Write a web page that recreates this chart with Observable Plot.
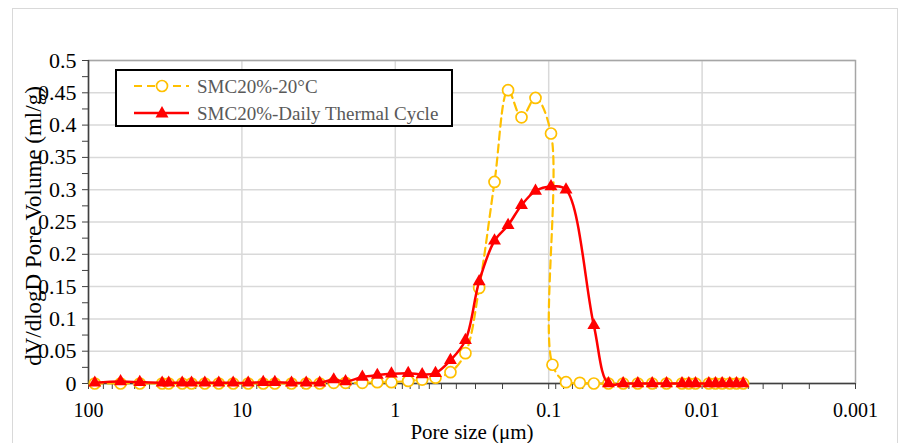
<!DOCTYPE html>
<html><head><meta charset="utf-8">
<script src="https://cdn.jsdelivr.net/npm/d3@7"></script>
<script src="https://cdn.jsdelivr.net/npm/@observablehq/plot@0.6"></script>
<style>
body{margin:0;background:#fff;}
#wrap{position:relative;width:903px;height:443px;overflow:hidden;font-family:"Liberation Serif","Times New Roman",serif;}
#border{position:absolute;left:12px;top:8px;width:884px;height:450px;border:1px solid #d9d9d9;pointer-events:none;}
#legend{position:absolute;left:115px;top:69px;width:334px;height:54px;border:2px solid #000;background:#fff;}
#legend svg{position:absolute;left:0;top:0;}
#legend .t{position:absolute;left:80px;font-size:19px;color:#595959;white-space:nowrap;line-height:1;}
</style></head>
<body><div id="wrap"><div id="chart"></div><div id="border"></div>
<div id="legend">
<svg width="80" height="54">
<line x1="17" x2="72" y1="15" y2="15" stroke="#FFC000" stroke-width="2.2" stroke-dasharray="8,5"/>
<circle cx="45" cy="15" r="5.5" fill="#fff" stroke="#FFC000" stroke-width="1.7"/>
<line x1="17" x2="72" y1="42" y2="42" stroke="#FF0000" stroke-width="2.5"/>
<path d="M45,35 L51.5,46.5 L38.5,46.5 Z" fill="#FF0000"/>
</svg>
<span class="t" style="top:6px">SMC20%-20°C</span>
<span class="t" style="top:33px">SMC20%-Daily Thermal Cycle</span>
</div></div>
<script>
// Series 1: SMC20%-20°C
const poreSize20 = [91, 61.8, 46.3, 33.1, 30.0, 24.5, 21.3, 17.45, 14.15, 11.4, 9.1, 7.26, 6.1, 4.75, 3.81, 3.11, 2.52, 2.11, 1.64, 1.31, 1.06, 0.824, 0.668, 0.547, 0.437, 0.349, 0.284, 0.2256, 0.184, 0.1504, 0.1219,
  0.0966, 0.0945, 0.0771, 0.0627, 0.0508, 0.0408, 0.0327, 0.02625, 0.02115, 0.01706, 0.01352, 0.01221, 0.01104, 0.00904, 0.00818, 0.0074, 0.0066, 0.00597, 0.0054];
const vol20 = [0, 0, 0, 0, 0, 0, 0, 0, 0, 0, 0, 0, 0, 0, 0, 0, 0.001, 0.001, 0.001, 0.002, 0.002, 0.004, 0.006, 0.009, 0.0175, 0.047, 0.148, 0.312, 0.454, 0.412, 0.442,
  0.387, 0.029, 0.002, 0.001, 0, 0, 0, 0, 0, 0, 0, 0, 0, 0, 0, 0, 0, 0, 0];
// Series 2: SMC20%-Daily Thermal Cycle
const poreSizeDTC = [91, 61.8, 46.3, 33.1, 30.0, 24.5, 21.3, 17.45, 14.15, 11.4, 9.1, 7.26, 6.1, 4.75, 3.81, 3.11, 2.52, 2.11, 1.64, 1.31, 1.06, 0.824, 0.668, 0.547, 0.437, 0.349, 0.284, 0.2256, 0.184, 0.1504, 0.1219,
  0.0966, 0.0771, 0.0508, 0.0408, 0.0327, 0.02625, 0.02115, 0.01706, 0.01352, 0.01221, 0.01104, 0.00904, 0.00818, 0.0074, 0.0066, 0.00597, 0.0054];
const volDTC = [0.001, 0.003, 0.002, 0.001, 0.001, 0.001, 0.001, 0.001, 0.001, 0.001, 0.001, 0.002, 0.002, 0.001, 0.001, 0.001, 0.006, 0.003, 0.010, 0.013, 0.015, 0.016, 0.014, 0.016, 0.036, 0.067, 0.158, 0.221, 0.245, 0.276, 0.298,
  0.305, 0.300, 0.090, 0, 0, 0, 0, 0, 0, 0, 0, 0, 0, 0, 0, 0, 0];

const xTicks = [100, 10, 1, 0.1, 0.01, 0.001];
const xTickLabels = ["100", "10", "1", "0.1", "0.01", "0.001"];
const yTicks = [0, 0.05, 0.1, 0.15, 0.2, 0.25, 0.3, 0.35, 0.4, 0.45, 0.5];
const yTickLabels = ["0", "0.05", "0.1", "0.15", "0.2", "0.25", "0.3", "0.35", "0.4", "0.45", "0.5"];
const xTitle = "Pore size (μm)";
const yTitle = "dV/dlogD Pore Volume (ml/g)";

const xMinor = [];
for (let k = -3; k <= 1; k++) for (let m = 2; m <= 9; m++) xMinor.push(m * Math.pow(10, k));
const yMinor = yTicks.slice(0, -1).map(v => v + 0.025);

const s1 = poreSize20.map((x, i) => ({x, y: vol20[i]}));
const s2 = poreSizeDTC.map((x, i) => ({x, y: volDTC[i]}));

const chart = Plot.plot({
  width: 903, height: 443,
  marginLeft: 88, marginRight: 48, marginTop: 60, marginBottom: 60,
  x: {type: "log", domain: [100, 0.001]},
  y: {domain: [0, 0.5]},
  style: {fontFamily: '"Liberation Serif","Times New Roman",serif', fontSize: "20px", color: "#000", background: "transparent", overflow: "visible"},
  marks: [
    Plot.gridY(yTicks.slice(1), {stroke: "#d9d9d9", strokeOpacity: 1, strokeWidth: 1.5}),
    Plot.gridX(xTicks.slice(1, -1), {stroke: "#d9d9d9", strokeOpacity: 1, strokeWidth: 1.5}),
    Plot.frame({stroke: "#a6a6a6", strokeWidth: 1.5}),
    Plot.axisY(yTicks, {tickSize: 6, tickPadding: 6, tickFormat: d => yTickLabels[yTicks.indexOf(d)], fontSize: 22, label: null, stroke: "#404040"}),
    Plot.axisY(yMinor, {tickSize: 6, tickFormat: () => "", label: null, stroke: "#404040"}),
    Plot.axisX(xTicks, {tickSize: 6, tickPadding: 13, tickFormat: d => xTickLabels[xTicks.indexOf(d)], fontSize: 20, label: null, stroke: "#404040"}),
    Plot.axisX(xMinor, {tickSize: 6, tickFormat: () => "", label: null, stroke: "#404040"}),
    Plot.ruleX([100], {stroke: "#404040", strokeWidth: 1.5}),
    Plot.ruleY([0], {stroke: "#404040", strokeWidth: 1.5}),
    Plot.line(s1, {x: "x", y: "y", stroke: "#FFC000", strokeWidth: 2.2, strokeDasharray: "8,5", curve: "catmull-rom"}),
    Plot.dot(s1, {x: "x", y: "y", r: 5.5, stroke: "#FFC000", strokeWidth: 1.7, fill: "#fff"}),
    Plot.line(s2, {x: "x", y: "y", stroke: "#FF0000", strokeWidth: 2.5, curve: "catmull-rom"}),
    Plot.dot(s2, {x: "x", y: "y", r: 4.8, symbol: "triangle", fill: "#FF0000", stroke: "none"}),
    Plot.text([yTitle], {frameAnchor: "left", dx: -55, dy: 4, rotate: -90, lineAnchor: "middle", textAnchor: "middle", fontSize: 23, fill: "#000"}),
    Plot.text([xTitle], {frameAnchor: "bottom", dy: 49, lineAnchor: "middle", textAnchor: "middle", fontSize: 21, fill: "#000"})
  ]
});
document.getElementById("chart").appendChild(chart);
</script></body></html>
